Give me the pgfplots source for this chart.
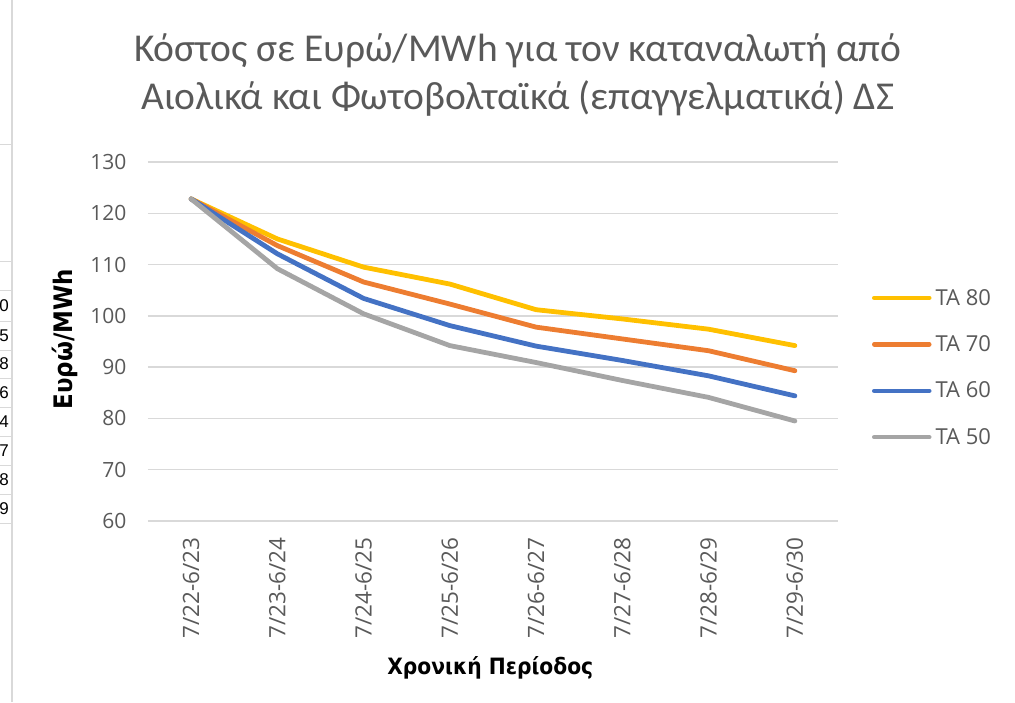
\documentclass[border=0pt]{standalone}
\usepackage{fontspec}
\setmainfont{Carlito}
\newfontfamily\osans{Open Sans}
\newfontfamily\dvc{DejaVu Sans Condensed}
\newfontfamily\lsans{Liberation Sans}
\usepackage{pgfplots}
\pgfplotsset{compat=1.18}
\definecolor{cy}{HTML}{FFC000}
\definecolor{co}{HTML}{ED7D31}
\definecolor{cb}{HTML}{4472C4}
\definecolor{cg}{HTML}{A5A5A5}
\definecolor{txt}{HTML}{595959}
\definecolor{grd}{HTML}{D9D9D9}
\begin{document}
\begin{tikzpicture}[x=1pt,y=1pt]
\begin{axis}[
  scale only axis, width=690pt, height=359pt,
  xmin=-0.5, xmax=7.5, ymin=60, ymax=130,
  xtick={0,...,7},
  xticklabels={7/22-6/23,7/23-6/24,7/24-6/25,7/25-6/26,7/26-6/27,7/27-6/28,7/28-6/29,7/29-6/30},
  ytick={60,70,...,130},
  ymajorgrids, major grid style={grd, line width=1.5pt},
  axis line style={draw=none}, tick style={draw=none},
  /pgf/number format/assume math mode=true,
  yticklabel style={font=\osans\fontsize{21}{21}\selectfont, text=txt, anchor=east, xshift=-18pt},
  xticklabel style={font=\osans\fontsize{22.5}{22.5}\selectfont, text=txt, rotate=90, anchor=east, xshift=-13pt},
  ylabel={Ευρώ/MWh}, xlabel={Χρονική Περίοδος},
  ylabel style={at={(axis description cs:-0.1203,0.507)}, anchor=center, font=\dvc\bfseries\fontsize{25.5}{25.5}\selectfont, text=black},
  xlabel style={at={(axis description cs:0.496,-0.4095)}, anchor=center, font=\dvc\bfseries\fontsize{22.5}{22.5}\selectfont, text=black},
  title={Κόστος σε Ευρώ/MWh για τον καταναλωτή από\\Αιολικά και Φωτοβολταϊκά (επαγγελματικά) ΔΣ},
  title style={at={(axis description cs:0.536,1.226)}, anchor=center, align=center, font=\fontsize{39.5}{48}\selectfont, text=txt},
  legend style={draw=none, fill=none, at={(axis description cs:1.049,0.652)}, anchor=north west,
    font=\osans\fontsize{22}{22}\selectfont, text=txt, row sep=25pt, inner sep=0pt,
    nodes={inner xsep=4pt}},
  legend cell align=left,
  legend image code/.code={\draw[#1, line width=4.5pt, line cap=round] (0pt,0pt) -- (55pt,0pt);},
  every axis plot/.append style={line width=4.8pt, line join=round, line cap=round},
  clip=false,
]
\coordinate (pll) at (rel axis cs:0,0);
\addplot[cy] coordinates {(0,122.8) (1,115.0) (2,109.5) (3,106.2) (4,101.2) (5,99.4) (6,97.4) (7,94.2)};
\addplot[co] coordinates {(0,122.8) (1,113.7) (2,106.6) (3,102.3) (4,97.8) (5,95.5) (6,93.2) (7,89.3)};
\addplot[cb] coordinates {(0,122.8) (1,112.1) (2,103.4) (3,98.1) (4,94.1) (5,91.3) (6,88.3) (7,84.4)};
\addplot[cg] coordinates {(0,122.8) (1,109.2) (2,100.4) (3,94.2) (4,90.9) (5,87.4) (6,84.1) (7,79.5)};
\legend{TA 80,TA 70,TA 60,TA 50}
\end{axis}
% spreadsheet fragment at left edge (page coords: origin = bottom-left of page)
\begin{scope}[shift={(pll)}, shift={(-148,-181)}]
\begin{scope}
\clip (0,0) rectangle (12,702);
\foreach \yy in {145,262,291,321,350,378,407,436,465,494,523}{\draw[grd, line width=1pt] (0,702-\yy) -- (12,702-\yy);}
\foreach \yy/\dd in {306/0,336/5,364/8,393/6,422/4,451/7,480/8,509/9}{\node[anchor=east, inner sep=0pt, font=\lsans\fontsize{17}{17}\selectfont, text=black] at (9,702-\yy) {\dd};}
\end{scope}
\draw[grd, line width=1.2pt] (12,0) -- (12,702);
\end{scope}
\pgfresetboundingbox
\path[use as bounding box] ([shift={(-148,-181)}]pll) rectangle ([shift={(867,521)}]pll);
\end{tikzpicture}
\end{document}
